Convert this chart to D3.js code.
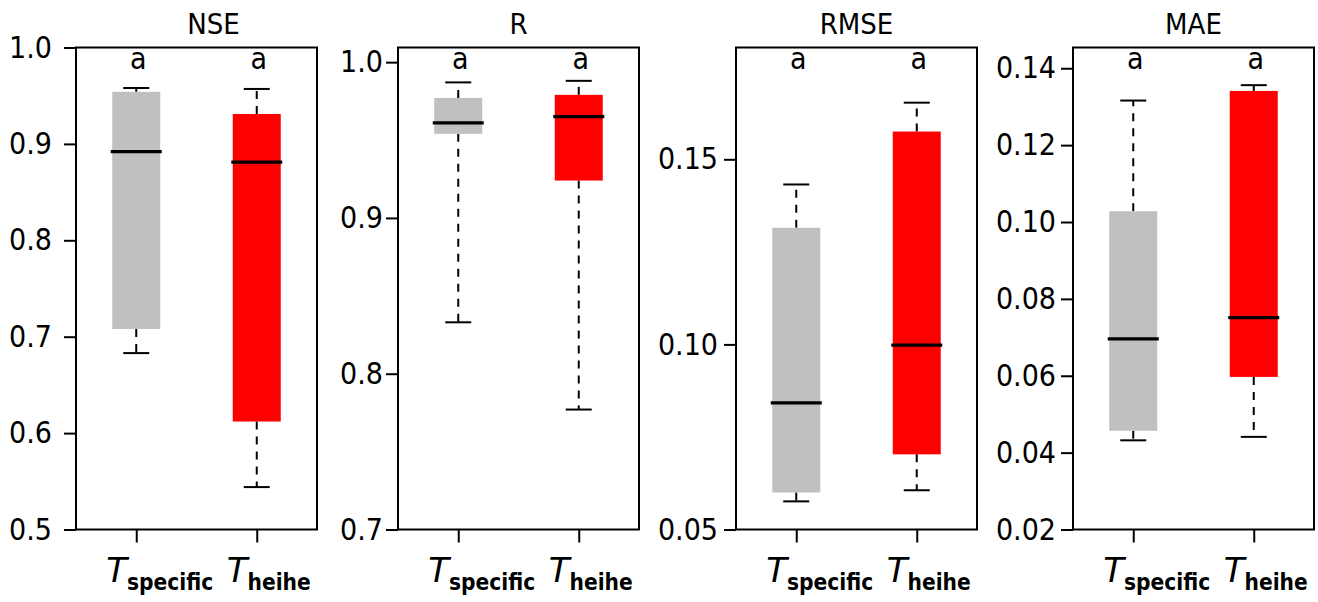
<!DOCTYPE html>
<html>
<head>
<meta charset="utf-8">
<script src="https://cdn.jsdelivr.net/npm/d3@7"></script>
<style>
  html, body { margin: 0; padding: 0; background: #fff; }
  svg { display: block; }
  text { font-family: "DejaVu Sans Condensed", "DejaVu Sans", Verdana, sans-serif; font-stretch: condensed; fill: #000; }
</style>
</head>
<body>
<svg id="chart" width="1318" height="602"></svg>
<script>
// ---- data (min, Q1, median, Q3, max) ----
const metrics = ["NSE", "R", "RMSE", "MAE"];
const groups = ["specific", "heihe"];
const groupColors = ["#c0c0c0", "#ff0000"];

const nseSpecific = [0.683, 0.708, 0.892, 0.954, 0.958];
const nseHeihe    = [0.544, 0.612, 0.881, 0.931, 0.957];
const rSpecific   = [0.833, 0.954, 0.961, 0.977, 0.987];
const rHeihe      = [0.777, 0.924, 0.965, 0.979, 0.988];
const rmseSpecific = [0.0576, 0.0600, 0.0842, 0.1315, 0.1432];
const rmseHeihe    = [0.0606, 0.0703, 0.0998, 0.1575, 0.1653];
const maeSpecific  = [0.0432, 0.0457, 0.0696, 0.1028, 0.1316];
const maeHeihe     = [0.0441, 0.0597, 0.0751, 0.1341, 0.1356];

const nseDomain  = [0.5, 1.0];
const rDomain    = [0.7, 1.0094];
const rmseDomain = [0.05, 0.1802];
const maeDomain  = [0.02, 0.1454];

const nseTicks  = [0.5, 0.6, 0.7, 0.8, 0.9, 1.0];
const rTicks    = [0.7, 0.8, 0.9, 1.0];
const rmseTicks = [0.05, 0.10, 0.15];
const maeTicks  = [0.02, 0.04, 0.06, 0.08, 0.10, 0.12, 0.14];

const nseLetters  = ["a", "a"];
const rLetters    = ["a", "a"];
const rmseLetters = ["a", "a"];
const maeLetters  = ["a", "a"];

const panels = [
  { title: "NSE",  stats: [nseSpecific, nseHeihe],   domain: nseDomain,  ticks: nseTicks,  fmt: ".1f", letters: nseLetters },
  { title: "R",    stats: [rSpecific, rHeihe],       domain: rDomain,    ticks: rTicks,    fmt: ".1f", letters: rLetters },
  { title: "RMSE", stats: [rmseSpecific, rmseHeihe], domain: rmseDomain, ticks: rmseTicks, fmt: ".2f", letters: rmseLetters },
  { title: "MAE",  stats: [maeSpecific, maeHeihe],   domain: maeDomain,  ticks: maeTicks,  fmt: ".2f", letters: maeLetters }
];

// ---- layout ----
const panelLeft = [76, 398, 736, 1073];
const titleShift = [17, 0, 0, 0];
const tickPad = [12, 3, 6, 5];
const plotW = 241;
const plotTop = 47.5;
const plotBottom = 529.5;
const boxW = 48;
const capW = 26;

const svg = d3.select("#chart");

panels.forEach((p, i) => {
  const g = svg.append("g").attr("transform", `translate(${panelLeft[i]},0)`);
  const x = d3.scalePoint().domain(groups).range([0, plotW]).padding(0.5);
  const y = d3.scaleLinear().domain(p.domain).range([plotBottom, plotTop]);

  // y axis
  const ya = g.append("g")
    .call(d3.axisLeft(y).tickValues(p.ticks).tickFormat(d3.format(p.fmt)).tickSize(12).tickPadding(tickPad[i]));
  ya.select(".domain").remove();
  ya.selectAll(".tick line").attr("stroke", "#000").attr("stroke-width", 2);
  ya.selectAll(".tick text").style("font-size", "30px").style("font-family", null).attr("font-family", null).attr("fill", "#000");

  // x axis ticks
  const xa = g.append("g").attr("transform", `translate(0,${plotBottom})`)
    .call(d3.axisBottom(x).tickSize(13).tickFormat(""));
  xa.select(".domain").remove();
  xa.selectAll(".tick line").attr("stroke", "#000").attr("stroke-width", 2);

  // x labels
  groups.forEach((grp, j) => {
    const t = g.append("text")
      .attr("x", x(grp) - 30)
      .attr("y", plotBottom + 52);
    t.append("tspan").style("font-family", "'DejaVu Sans', sans-serif").style("font-stretch", "normal")
      .style("font-style", "italic").style("font-size", "34px").text("T");
    t.append("tspan")
      .style("font-weight", "bold").style("font-size", "22.5px")
      .attr("dy", 8).text(grp);
  });

  // boxplots
  p.stats.forEach((s, j) => {
    const cx = x(groups[j]);
    const [mn, q1, med, q3, mx] = s;
    // whiskers
    g.append("line").attr("x1", cx).attr("x2", cx).attr("y1", y(q3)).attr("y2", y(mx))
      .attr("stroke", "#000").attr("stroke-width", 2).attr("stroke-dasharray", "8,7");
    g.append("line").attr("x1", cx).attr("x2", cx).attr("y1", y(q1)).attr("y2", y(mn))
      .attr("stroke", "#000").attr("stroke-width", 2).attr("stroke-dasharray", "8,7");
    // caps
    [mn, mx].forEach(v => {
      g.append("line").attr("x1", cx - capW / 2).attr("x2", cx + capW / 2)
        .attr("y1", y(v)).attr("y2", y(v)).attr("stroke", "#000").attr("stroke-width", 2);
    });
    // box
    g.append("rect").attr("x", cx - boxW / 2).attr("width", boxW)
      .attr("y", y(q3)).attr("height", y(q1) - y(q3))
      .attr("fill", groupColors[j]);
    // median
    g.append("line").attr("x1", cx - boxW / 2 - 1.5).attr("x2", cx + boxW / 2 + 1.5)
      .attr("y1", y(med)).attr("y2", y(med)).attr("stroke", "#000").attr("stroke-width", 3.2);
    // letter
    g.append("text").attr("x", cx + 2).attr("y", 69).attr("text-anchor", "middle")
      .style("font-size", "30px").text(p.letters[j]);
  });

  // frame
  g.append("rect").attr("x", 0).attr("y", plotTop).attr("width", plotW).attr("height", plotBottom - plotTop)
    .attr("fill", "none").attr("stroke", "#000").attr("stroke-width", 2);

  // title
  g.append("text").attr("x", plotW / 2 + titleShift[i]).attr("y", 34).attr("text-anchor", "middle")
    .style("font-size", "29px").text(p.title);
});
</script>
</body>
</html>
